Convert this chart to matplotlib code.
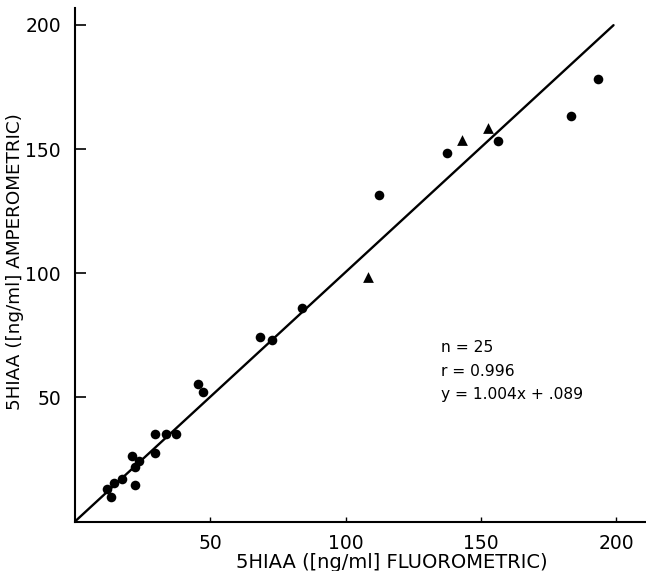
import matplotlib
matplotlib.use("Agg")
import matplotlib.pyplot as plt
import numpy as np

# Data (ng/ml)
dots_x = [112.5, 137.6, 156.4, 183.2, 193.4,
          45.6, 47.4, 68.4, 72.7, 83.8,
          29.6, 33.5, 37.3, 21.1, 29.6, 23.8, 22.2, 17.3, 14.4, 11.9, 13.3, 22.3]
dots_y = [131.4, 148.3, 153.4, 163.4, 178.1,
          55.3, 52.3, 74.5, 73.2, 85.9,
          35.2, 35.3, 35.2, 26.6, 27.8, 24.6, 22.1, 17.2, 15.7, 13.0, 9.8, 14.6]
tri_x = [108.4, 142.9, 152.7]
tri_y = [98.6, 153.7, 158.4]

fit_slope = 1.004
fit_intercept = 0.089
fit_range = [0, 199]

x_ticks = [50, 100, 150, 200]
y_ticks = [50, 100, 150, 200]

stats_lines = ["n = 25", "r = 0.996", "y = 1.004x + .089"]

xlabel = "5HIAA ([ng/ml] FLUOROMETRIC)"
ylabel = "5HIAA ([ng/ml] AMPEROMETRIC)"

plt.rcParams['font.family'] = ['DejaVu Sans']

W, H = 646, 571
fig = plt.figure(figsize=(W / 100, H / 100), dpi=100)
ax_left, ax_bottom_px, ax_top_px = 75, 521.7, 8
ax = fig.add_axes([ax_left / W, (H - ax_bottom_px) / H,
                   (W - ax_left) / W, (ax_bottom_px - ax_top_px) / H])
ax.set_xlim(0, 211)
ax.set_ylim(0, 206.8)

fx = np.array(fit_range, dtype=float)
ax.plot(fx, fit_slope * fx + fit_intercept, color='black', lw=1.7,
        solid_capstyle='round', zorder=2)

ax.scatter(dots_x, dots_y, s=48, color='black', marker='o', zorder=3,
           linewidths=0)
ax.scatter(tri_x, tri_y, s=60, color='black', marker='^', zorder=3,
           linewidths=0)

for sp in ['top', 'right']:
    ax.spines[sp].set_visible(False)
for sp in ['left', 'bottom']:
    ax.spines[sp].set_linewidth(1.5)

ax.set_xticks(x_ticks)
ax.set_yticks(y_ticks)
ax.tick_params(axis='x', direction='in', length=3.5, width=1.0, pad=9,
               labelsize=13.5)
ax.tick_params(axis='y', direction='in', length=8, width=1.2, pad=10,
               labelsize=13.5)

ax.text(135.1, 68.2, stats_lines[0], fontsize=11.2, va='baseline', ha='left')
ax.text(135.1, 58.7, stats_lines[1], fontsize=11.2, va='baseline', ha='left')
ax.text(135.1, 49.3, stats_lines[2], fontsize=11.2, va='baseline', ha='left')

fig.text(392 / W, 1 - 562 / H, xlabel, fontsize=14, ha='center', va='center')
fig.text(15 / W, 1 - 262 / H, ylabel, fontsize=13.2, ha='center', va='center',
         rotation=90)

fig.savefig("out.png", dpi=100)
